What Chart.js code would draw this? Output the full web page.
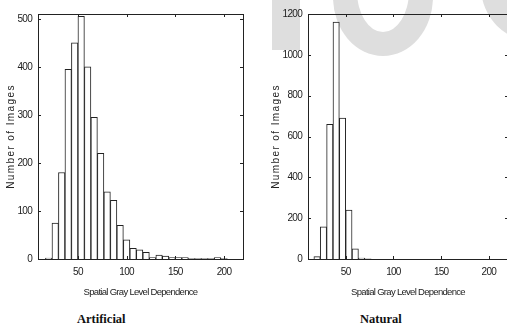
<!DOCTYPE html>
<html>
<head>
<meta charset="utf-8">
<script src="https://cdn.jsdelivr.net/npm/chart.js@4.4.0/dist/chart.umd.min.js"></script>
<style>
  html, body { margin: 0; padding: 0; background: #fff; overflow: hidden; }
  body { width: 507px; height: 330px; position: relative; }
  .wm { position: absolute; background: #dedede; }
  .hole { position: absolute; background: #fff; border-radius: 50%; }
  .box { position: absolute; top: 0; }
  .cap { position: absolute; font-family: 'Liberation Serif', serif; font-weight: bold; font-size: 12.5px; color: #111; }
</style>
</head>
<body>
<!-- light gray watermark behind the right plot -->
<div class="wm" style="left:272px;top:0;width:28px;height:50px"></div>
<div class="wm" style="left:333px;top:-62px;width:100px;height:118px;border-radius:50%"></div>
<div class="hole" style="left:357px;top:-50px;width:52px;height:82px"></div>
<div class="wm" style="left:481px;top:-68px;width:110px;height:110px;border-radius:50%"></div>

<div class="box" style="left:0"><canvas id="artificial" width="250" height="300"></canvas></div>
<div class="box" style="left:250px"><canvas id="natural" width="260" height="300"></canvas></div>
<div class="cap" style="left:77px;top:312px">Artificial</div>
<div class="cap" style="left:360px;top:312px">Natural</div>

<script>
const binCenters = [20, 26.67, 33.33, 40, 46.67, 53.33, 60, 66.67, 73.33, 80,
  86.67, 93.33, 100, 106.67, 113.33, 120, 126.67, 133.33, 140, 146.67,
  153.33, 160, 166.67, 173.33, 180, 186.67, 193.33, 200, 206.67, 213.33];
const artificialCounts = [2, 75, 180, 395, 450, 505, 400, 295, 220, 140,
  122, 70, 40, 22, 19, 14, 3, 8, 6, 3,
  3, 3, 1, 1, 1, 1, 3, 1, 0, 0];
const naturalCounts = [12, 157, 660, 1160, 690, 240, 50, 5, 1, 0,
  0, 0, 0, 0, 0, 0, 0, 0, 0, 0,
  0, 0, 0, 0, 0, 0, 0, 0, 0, 0];
const xTicks = [50, 100, 150, 200];
const artificialYTicks = [0, 100, 200, 300, 400, 500];
const naturalYTicks = [0, 200, 400, 600, 800, 1000, 1200];

const tickFont = { family: "'Liberation Sans', Arial, sans-serif", size: 10 };
const ink = '#222';

// squeeze all text (the original is a narrow face), but space out the y title
const textPlugin = {
  id: 'text',
  beforeDraw(chart) {
    chart.ctx.letterSpacing = '-0.7px';
    const s = chart.scales.y;
    if (!s._spaced) {
      const orig = s.drawTitle.bind(s);
      s.drawTitle = () => {
        const c = chart.ctx;
        c.save();
        c.letterSpacing = '1.4px';
        orig();
        c.restore();
      };
      s._spaced = true;
    }
  }
};

// box around the plot with MATLAB style inward ticks on all four sides
const framePlugin = {
  id: 'frame',
  afterDraw(chart) {
    const { ctx, chartArea: a, scales: { x, y } } = chart;
    ctx.save();
    ctx.strokeStyle = ink;
    ctx.lineWidth = 1;
    ctx.strokeRect(Math.round(a.left) + 0.5, Math.round(a.top) + 0.5,
      Math.round(a.right - a.left), Math.round(a.bottom - a.top));
    ctx.beginPath();
    x.ticks.forEach(t => {
      const px = Math.round(x.getPixelForValue(t.value)) + 0.5;
      ctx.moveTo(px, a.bottom); ctx.lineTo(px, a.bottom - 3);
      ctx.moveTo(px, a.top); ctx.lineTo(px, a.top + 3);
    });
    y.ticks.forEach(t => {
      const py = Math.round(y.getPixelForValue(t.value)) + 0.5;
      ctx.moveTo(a.left, py); ctx.lineTo(a.left + 3, py);
      ctx.moveTo(a.right, py); ctx.lineTo(a.right - 3, py);
    });
    ctx.stroke();
    ctx.restore();
  }
};

function histogram(id, counts, yTicks, o) {
  return new Chart(document.getElementById(id), {
    type: 'bar',
    data: {
      datasets: [{
        data: binCenters.map((c, i) => ({ x: c, y: counts[i] })),
        backgroundColor: '#fff',
        borderColor: ink,
        borderWidth: 1,
        barPercentage: 1,
        categoryPercentage: 1
      }]
    },
    options: {
      responsive: false,
      animation: false,
      layout: { padding: { top: 14, right: o.padRight, left: 0, bottom: 0 } },
      plugins: { legend: { display: false }, tooltip: { enabled: false } },
      scales: {
        x: {
          type: 'linear',
          offset: false,
          min: o.xMin,
          max: o.xMax,
          afterFit: s => { s.height = 41; },
          afterBuildTicks: s => { s.ticks = xTicks.map(v => ({ value: v })); },
          grid: { display: false, drawTicks: false },
          border: { display: false },
          ticks: { font: tickFont, color: ink, padding: 7, maxRotation: 0, callback: v => String(v) },
          title: {
            display: true,
            text: 'Spatial Gray Level Dependence',
            font: { family: tickFont.family, size: 9.5 },
            color: ink,
            padding: { top: 0, bottom: 2 }
          }
        },
        y: {
          min: 0,
          max: o.yMax,
          afterFit: s => { s.width = o.yWidth; },
          afterBuildTicks: s => { s.ticks = yTicks.map(v => ({ value: v })); },
          grid: { display: false, drawTicks: false },
          border: { display: false },
          ticks: { font: tickFont, color: ink, padding: 6, callback: v => String(v) },
          title: {
            display: true,
            text: 'Number of Images',
            font: { family: tickFont.family, size: 10 },
            color: ink,
            padding: { top: o.titlePad, bottom: 0 }
          }
        }
      }
    },
    plugins: [textPlugin, framePlugin]
  });
}

histogram('artificial', artificialCounts, artificialYTicks,
  { xMin: 9, xMax: 219.5, yMax: 510, yWidth: 38, padRight: 7, titlePad: 5 });
histogram('natural', naturalCounts, naturalYTicks,
  { xMin: 10.5, xMax: 220, yMax: 1200, yWidth: 58, padRight: 2, titlePad: 20 });
</script>
</body>
</html>
